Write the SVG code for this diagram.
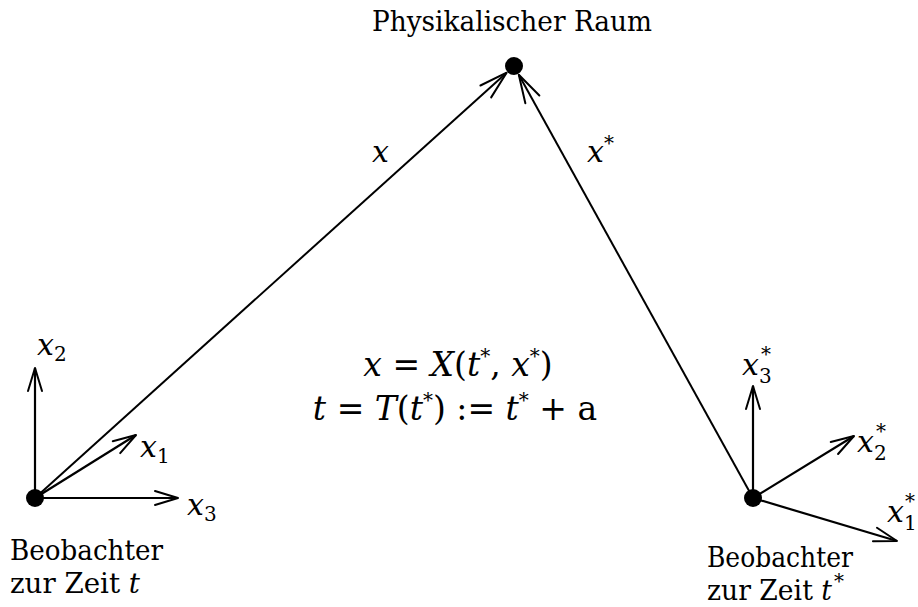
<svg xmlns="http://www.w3.org/2000/svg" width="918" height="607" viewBox="0 0 918 607">
<defs>
<marker id="arr" markerUnits="userSpaceOnUse" markerWidth="40" markerHeight="40" viewBox="-30 -20 40 40" refX="0" refY="0" orient="auto">
<path d="M-23,-7 L0,0 L-23,7" fill="none" stroke="#000" stroke-width="2" stroke-linecap="round" stroke-linejoin="round"/>
</marker>
<marker id="arrL" markerUnits="userSpaceOnUse" markerWidth="50" markerHeight="50" viewBox="-40 -25 50 50" refX="0" refY="0" orient="auto">
<path d="M-28,-8 L0,0 L-28,8" fill="none" stroke="#000" stroke-width="2" stroke-linecap="round" stroke-linejoin="round"/>
</marker>
</defs>
<style>
.f{font-family:'DejaVu Serif',serif}
.t{font-size:28px;fill:#000}
.m{font-style:italic;font-size:30px;fill:#000}
.eq{font-size:33px}
.n{font-style:normal}
.s{font-size:20px;font-style:normal}
.ln{stroke:#000;stroke-width:2;fill:none}
.ax{stroke:#000;stroke-width:2.2;fill:none;marker-end:url(#arr)}
</style>
<rect width="918" height="607" fill="#fff"/>
<g id="connectors">
<line class="ln" x1="35" y1="498" x2="506.6" y2="72.7" marker-end="url(#arrL)"/>
<line class="ln" x1="753" y1="498" x2="518.8" y2="74.8" marker-end="url(#arrL)"/>
<line class="ax" x1="35" y1="498" x2="35" y2="368"/>
<line class="ax" x1="35" y1="498" x2="136" y2="435"/>
<line class="ax" x1="35" y1="498" x2="178" y2="498"/>
<line class="ax" x1="753" y1="498" x2="753" y2="386"/>
<line class="ax" x1="753" y1="498" x2="854" y2="436"/>
<line class="ax" x1="753" y1="498" x2="897" y2="541"/>
</g>
<g class="f">
<g id="raum">
<circle cx="514" cy="66" r="9"/>
<text class="t" x="512" y="31" text-anchor="middle" textLength="280" lengthAdjust="spacingAndGlyphs">Physikalischer Raum</text>
</g>
<g id="beobachter-t">
<circle cx="35" cy="498" r="9"/>
<text class="t" x="10" y="560" textLength="153" lengthAdjust="spacingAndGlyphs">Beobachter</text>
<text class="t" x="10" y="593" textLength="130" lengthAdjust="spacingAndGlyphs">zur Zeit <tspan font-style="italic">t</tspan></text>
<text class="m" x="37" y="355">x<tspan class="s" dy="6">2</tspan></text>
<text class="m" x="140" y="457">x<tspan class="s" dy="6">1</tspan></text>
<text class="m" x="187" y="515">x<tspan class="s" dy="6">3</tspan></text>
</g>
<g id="beobachter-tstar">
<circle cx="753" cy="498" r="9"/>
<text class="t" x="707" y="567" textLength="146" lengthAdjust="spacingAndGlyphs">Beobachter</text>
<text class="t" x="707" y="600" textLength="125" lengthAdjust="spacingAndGlyphs">zur Zeit <tspan font-style="italic">t</tspan></text>
<text class="s" x="834" y="588">*</text>
<text class="m" x="742" y="375">x<tspan class="s" dy="8">3</tspan></text>
<text class="s" x="761" y="361">*</text>
<text class="m" x="857" y="452">x<tspan class="s" dy="8">2</tspan></text>
<text class="s" x="876" y="438">*</text>
<text class="m" x="887" y="522">x<tspan class="s" dy="8">1</tspan></text>
<text class="s" x="905" y="508">*</text>
</g>
<g id="labels">
<text class="m" x="372" y="162">x</text>
<text class="m" x="587" y="162">x<tspan class="s" dy="-12">*</tspan></text>
<text class="m eq" x="458" y="376" text-anchor="middle">x <tspan class="n">= </tspan>X<tspan class="n">(</tspan>t<tspan class="s" dy="-13">*</tspan><tspan class="n" dy="13">, </tspan>x<tspan class="s" dy="-13">*</tspan><tspan class="n" dy="13">)</tspan></text>
<text class="m eq" x="455" y="420" text-anchor="middle">t <tspan class="n">= </tspan>T<tspan class="n">(</tspan>t<tspan class="s" dy="-13">*</tspan><tspan class="n" dy="13">) := </tspan>t<tspan class="s" dy="-13">*</tspan><tspan class="n" dy="13"> + a</tspan></text>
</g>
</g>
</svg>
